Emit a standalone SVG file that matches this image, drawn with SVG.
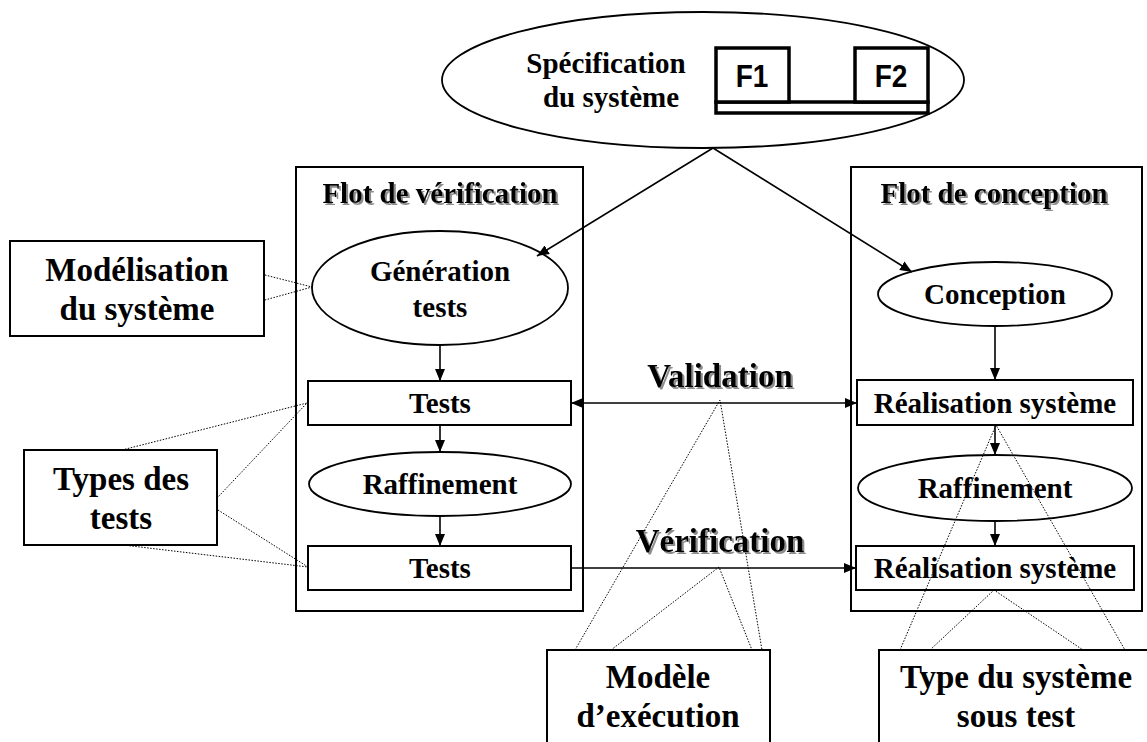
<svg xmlns="http://www.w3.org/2000/svg" width="1147" height="742" viewBox="0 0 1147 742">
  <defs>
    <marker id="arrow" viewBox="0 0 12 10" refX="12" refY="5" markerWidth="12" markerHeight="10" markerUnits="userSpaceOnUse" orient="auto-start-reverse">
      <path d="M0,0 L12,5 L0,10 z" fill="#000"/>
    </marker>
    <filter id="shadow" x="-5%" y="-30%" width="115%" height="170%">
      <feDropShadow dx="2" dy="2" stdDeviation="0.6" flood-color="#808080" flood-opacity="0.9"/>
    </filter>
  </defs>
  <style>
    .box{fill:#fff;stroke:#000;stroke-width:2}
    .oval{fill:#fff;stroke:#000;stroke-width:1.8}
    .fbox{fill:#fff;stroke:#000;stroke-width:3.5}
    .t{font-family:"Liberation Serif","Times New Roman",serif;font-weight:bold;text-anchor:middle;fill:#000}
    .s29{font-size:29px}
    .s33{font-size:33px}
    .f{font-family:"Liberation Sans",Arial,sans-serif;font-weight:bold;font-size:28px;text-anchor:middle;fill:#000}
    .conn{stroke:#000;stroke-width:1.6;fill:none}
    .dot{stroke:#000;stroke-width:1;stroke-dasharray:1.5 1.5;fill:none}
    .sh{filter:url(#shadow)}
  </style>

  <rect width="1147" height="742" fill="#fff"/>

  <!-- system specification -->
  <g id="specification">
    <ellipse class="oval" cx="703" cy="80" rx="261" ry="68"/>
    <text class="t s29" x="606" y="73">Spécification</text>
    <text class="t s29" x="611" y="107">du système</text>
    <rect class="fbox" x="716" y="102" width="212" height="11"/>
    <rect class="fbox" x="716" y="48" width="73" height="54"/>
    <rect class="fbox" x="855" y="48" width="73" height="54"/>
    <text class="f" transform="translate(752,87) scale(1,1.12)">F1</text>
    <text class="f" transform="translate(891,87) scale(1,1.12)">F2</text>
  </g>

  <!-- verification flow -->
  <g id="flot-verification">
    <rect class="box" x="296" y="167" width="287" height="444"/>
    <text class="t s29 sh" x="440" y="203">Flot de vérification</text>
  </g>
  <g id="generation-tests">
    <ellipse class="oval" cx="440" cy="288" rx="128" ry="57"/>
    <text class="t s29" x="440" y="281">Génération</text>
    <text class="t s29" x="440" y="317">tests</text>
  </g>
  <g id="tests-1">
    <rect class="box" x="308" y="381" width="263" height="44"/>
    <text class="t s29" x="440" y="413">Tests</text>
  </g>
  <g id="raffinement-verif">
    <ellipse class="oval" cx="440" cy="484" rx="131" ry="32"/>
    <text class="t s29" x="440" y="494">Raffinement</text>
  </g>
  <g id="tests-2">
    <rect class="box" x="308" y="546" width="263" height="44"/>
    <text class="t s29" x="440" y="578">Tests</text>
  </g>

  <!-- design flow -->
  <g id="flot-conception">
    <rect class="box" x="851" y="167" width="291" height="444"/>
    <text class="t s29 sh" x="994" y="203">Flot de conception</text>
  </g>
  <g id="conception">
    <ellipse class="oval" cx="995" cy="294" rx="117" ry="32"/>
    <text class="t s29" x="995" y="304">Conception</text>
  </g>
  <g id="realisation-1">
    <rect class="box" x="857" y="380" width="276" height="45"/>
    <text class="t s29" x="995" y="413">Réalisation système</text>
  </g>
  <g id="raffinement-conc">
    <ellipse class="oval" cx="995" cy="488" rx="137" ry="33"/>
    <text class="t s29" x="995" y="498">Raffinement</text>
  </g>
  <g id="realisation-2">
    <rect class="box" x="856" y="546" width="278" height="44"/>
    <text class="t s29" x="995" y="578">Réalisation système</text>
  </g>

  <!-- annotation boxes -->
  <g id="modelisation">
    <rect class="box" x="10" y="241" width="254" height="95"/>
    <text class="t s33" x="137" y="281">Modélisation</text>
    <text class="t s33" x="137" y="320">du système</text>
  </g>
  <g id="types-tests">
    <rect class="box" x="24" y="450" width="193" height="95"/>
    <text class="t s33" x="121" y="490">Types des</text>
    <text class="t s33" x="121" y="529">tests</text>
  </g>
  <g id="modele-execution">
    <rect class="box" x="547" y="650" width="223" height="120"/>
    <text class="t s33" x="658" y="688">Modèle</text>
    <text class="t s33" x="658" y="727">d’exécution</text>
  </g>
  <g id="type-systeme">
    <rect class="box" x="879" y="650" width="276" height="120"/>
    <text class="t s33" x="1016" y="688">Type du système</text>
    <text class="t s33" x="1016" y="727">sous test</text>
  </g>

  <!-- relation labels -->
  <g id="labels">
    <text class="t s33 sh" x="720" y="387">Validation</text>
    <text class="t s33 sh" x="720" y="552">Vérification</text>
  </g>

  <!-- connectors -->
  <g id="connectors">
    <line class="conn" x1="713" y1="148" x2="537" y2="256" marker-end="url(#arrow)"/>
    <line class="conn" x1="713" y1="148" x2="912" y2="272" marker-end="url(#arrow)"/>
    <line class="conn" x1="440" y1="345" x2="440" y2="381" marker-end="url(#arrow)"/>
    <line class="conn" x1="440" y1="425" x2="440" y2="452" marker-end="url(#arrow)"/>
    <line class="conn" x1="440" y1="516" x2="440" y2="546" marker-end="url(#arrow)"/>
    <line class="conn" x1="995" y1="326" x2="995" y2="380" marker-end="url(#arrow)"/>
    <line class="conn" x1="995" y1="425" x2="995" y2="455" marker-end="url(#arrow)"/>
    <line class="conn" x1="995" y1="521" x2="995" y2="546" marker-end="url(#arrow)"/>
    <line class="conn" x1="571" y1="403" x2="857" y2="403" marker-start="url(#arrow)" marker-end="url(#arrow)"/>
    <line class="conn" x1="571" y1="568" x2="856" y2="568" marker-end="url(#arrow)"/>

    <polyline class="dot" points="265,275 312,287 265,300"/>
    <polyline class="dot" points="122,450 307,403 218,497"/>
    <polyline class="dot" points="218,510 308,567 123,545"/>
    <polyline class="dot" points="575,650 720,400 762,650"/>
    <polyline class="dot" points="611,650 719,567 752,650"/>
    <polyline class="dot" points="900,650 996,425 1125,650"/>
    <polyline class="dot" points="930,650 994,590 1083,650"/>
  </g>
</svg>
